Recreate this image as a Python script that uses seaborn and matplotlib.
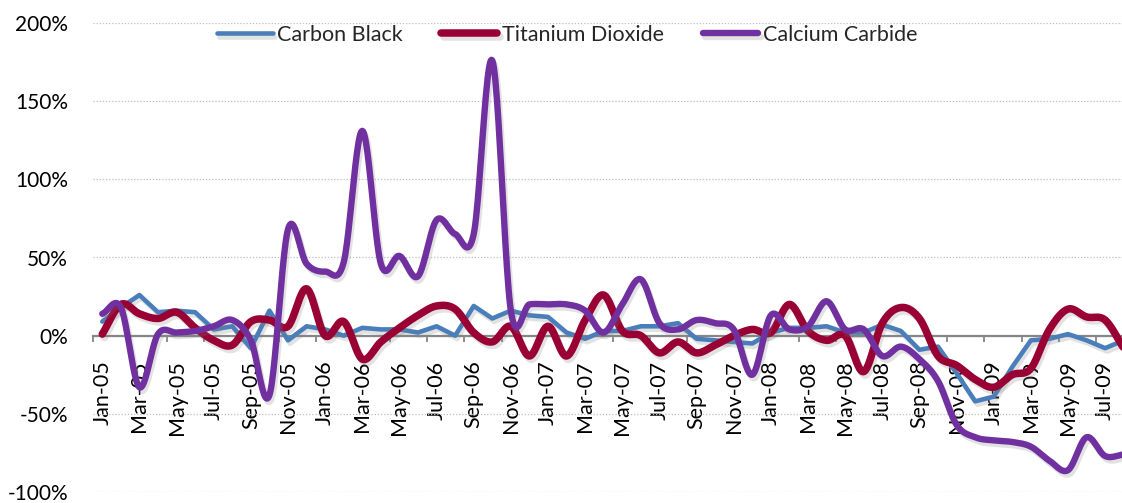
import numpy as np
import pandas as pd
import matplotlib
matplotlib.use("Agg")
import matplotlib.pyplot as plt
import matplotlib.patheffects as pe
import seaborn as sns

months = ["Jan-05", "Feb-05", "Mar-05", "Apr-05", "May-05", "Jun-05", "Jul-05", "Aug-05",
          "Sep-05", "Oct-05", "Nov-05", "Dec-05", "Jan-06", "Feb-06", "Mar-06", "Apr-06",
          "May-06", "Jun-06", "Jul-06", "Aug-06", "Sep-06", "Oct-06", "Nov-06", "Dec-06",
          "Jan-07", "Feb-07", "Mar-07", "Apr-07", "May-07", "Jun-07", "Jul-07", "Aug-07",
          "Sep-07", "Oct-07", "Nov-07", "Dec-07", "Jan-08", "Feb-08", "Mar-08", "Apr-08",
          "May-08", "Jun-08", "Jul-08", "Aug-08", "Sep-08", "Oct-08", "Nov-08", "Dec-08",
          "Jan-09", "Feb-09", "Mar-09", "Apr-09", "May-09", "Jun-09", "Jul-09", "Aug-09"]

carbon_black = [9, 18, 26, 15, 16, 15, 4, 6, -8, 16, -3, 6, 4, 0, 5, 4, 4, 2, 6, 0,
                19, 11, 16, 13, 12, 2, -2, 3, 3, 6, 6, 8, -2, -3, -4, -5, 2, 5, 5, 6,
                2, 2, 7, 3, -9, -7, -24, -42, -39, -20, -3, -2, 1, -3, -8, -3]

titanium_dioxide = [1, 20, 14, 11, 15, 5, -3, -6, 9, 10, 6, 30, 0, 9, -15, -4, 5, 13, 19, 17,
                    2, -4, 6, -13, 6, -13, 10, 26, 3, 0, -11, -4, -11, -6, 0, 4, 2, 20, 3, -3,
                    0, -23, 8, 18, 11, -13, -19, -28, -33, -25, -21, 4, 17, 12, 10, -8]

calcium_carbide = [14, 18, -33, 1, 2, 3, 6, 10, -3, -38, 68, 46, 41, 47, 131, 46, 51, 38, 74, 65,
                   65, 176, 16, 20, 20, 20, 16, 2, 20, 36, 8, 4, 10, 8, 4, -25, 13, 4, 6, 22,
                   4, 4, -13, -7, -15, -29, -57, -65, -67, -68, -71, -80, -86, -65, -77, -76]

series_names = ["Carbon Black", "Titanium Dioxide", "Calcium Carbide"]
y_ticks = [-100, -50, 0, 50, 100, 150, 200]


def smooth(y, n=24):
    """Catmull-Rom style smoothing (like Excel's smoothed line) for drawing."""
    y = np.asarray(y, float)
    p = np.concatenate([[2 * y[0] - y[1]], y, [2 * y[-1] - y[-2]]])
    xs, ys = [], []
    t = np.linspace(0, 1, n, endpoint=False)
    for i in range(len(y) - 1):
        p0, p1, p2, p3 = p[i], p[i + 1], p[i + 2], p[i + 3]
        yy = 0.5 * ((2 * p1) + (-p0 + p2) * t + (2 * p0 - 5 * p1 + 4 * p2 - p3) * t ** 2
                    + (-p0 + 3 * p1 - 3 * p2 + p3) * t ** 3)
        xs.append(i + t)
        ys.append(yy)
    xs.append([len(y) - 1])
    ys.append([y[-1]])
    return np.concatenate(xs), np.concatenate(ys)


sns.set_theme(style="white")
plt.rcParams['font.family'] = ['Lato', 'DejaVu Sans']

W, H = 1122, 503
fig = plt.figure(figsize=(W / 100, H / 100), dpi=100)
ax = fig.add_axes([93 / W, 11 / H, (1133 - 93) / W, (492 - 23) / H])

shadow = [pe.SimpleLineShadow(offset=(1.5, -2.5), shadow_color="#7f7f7f", alpha=0.22),
          pe.Normal()]

idx = np.arange(len(months))
df_cb = pd.DataFrame({"x": idx, "y": carbon_black})
xs_t, ys_t = smooth(titanium_dioxide)
df_ti = pd.DataFrame({"x": xs_t, "y": ys_t})
xs_c, ys_c = smooth(calcium_carbide)
df_ca = pd.DataFrame({"x": xs_c, "y": ys_c})

styles = [
    (df_cb, "#4A7EBB", 3.3),
    (df_ti, "#990033", 5.4),
    (df_ca, "#7030A0", 4.6),
]
for (d, c, lw), name in zip(styles, series_names):
    sns.lineplot(data=d, x="x", y="y", ax=ax, color=c, linewidth=lw, label=name,
                 sort=False, zorder=3, path_effects=shadow,
                 solid_capstyle="round", solid_joinstyle="round")

ax.set_xlim(-0.5, len(months) - 0.5)
ax.set_ylim(-100, 200)

# y axis
ax.set_yticks(y_ticks)
ax.set_yticklabels([f"{v}%" for v in y_ticks])
ax.tick_params(axis="y", length=0, pad=18, labelsize=15, labelcolor="black")
ax.yaxis.grid(True, linestyle=(0, (1, 1.5)), color="#BFBFBF", linewidth=0.9)
ax.xaxis.grid(False)

# x axis at zero
for s in ["top", "right", "left"]:
    ax.spines[s].set_visible(False)
ax.spines["bottom"].set_position(("data", 0))
ax.spines["bottom"].set_color("#868686")
ax.spines["bottom"].set_linewidth(1.6)

major = idx[::2]
ax.set_xticks(major)
ax.set_xticklabels([months[i] for i in major], rotation=90)
ax.set_xticks(np.arange(-0.5, len(months), 2), minor=True)
ax.tick_params(axis="x", which="major", length=0, pad=18, labelsize=15.5, labelcolor="black")
ax.tick_params(axis="x", which="minor", length=4.5, width=1.3, color="#868686",
               direction="out", bottom=True)
ax.set_xlabel("")
ax.set_ylabel("")

ax.legend(loc="center", bbox_to_anchor=(567 / W, 1 - 35 / H), bbox_transform=fig.transFigure,
          ncol=3, frameon=False, handlelength=2.6, handletextpad=0.2, columnspacing=1.8,
          fontsize=15.5)

fig.savefig("out.png", dpi=100)
